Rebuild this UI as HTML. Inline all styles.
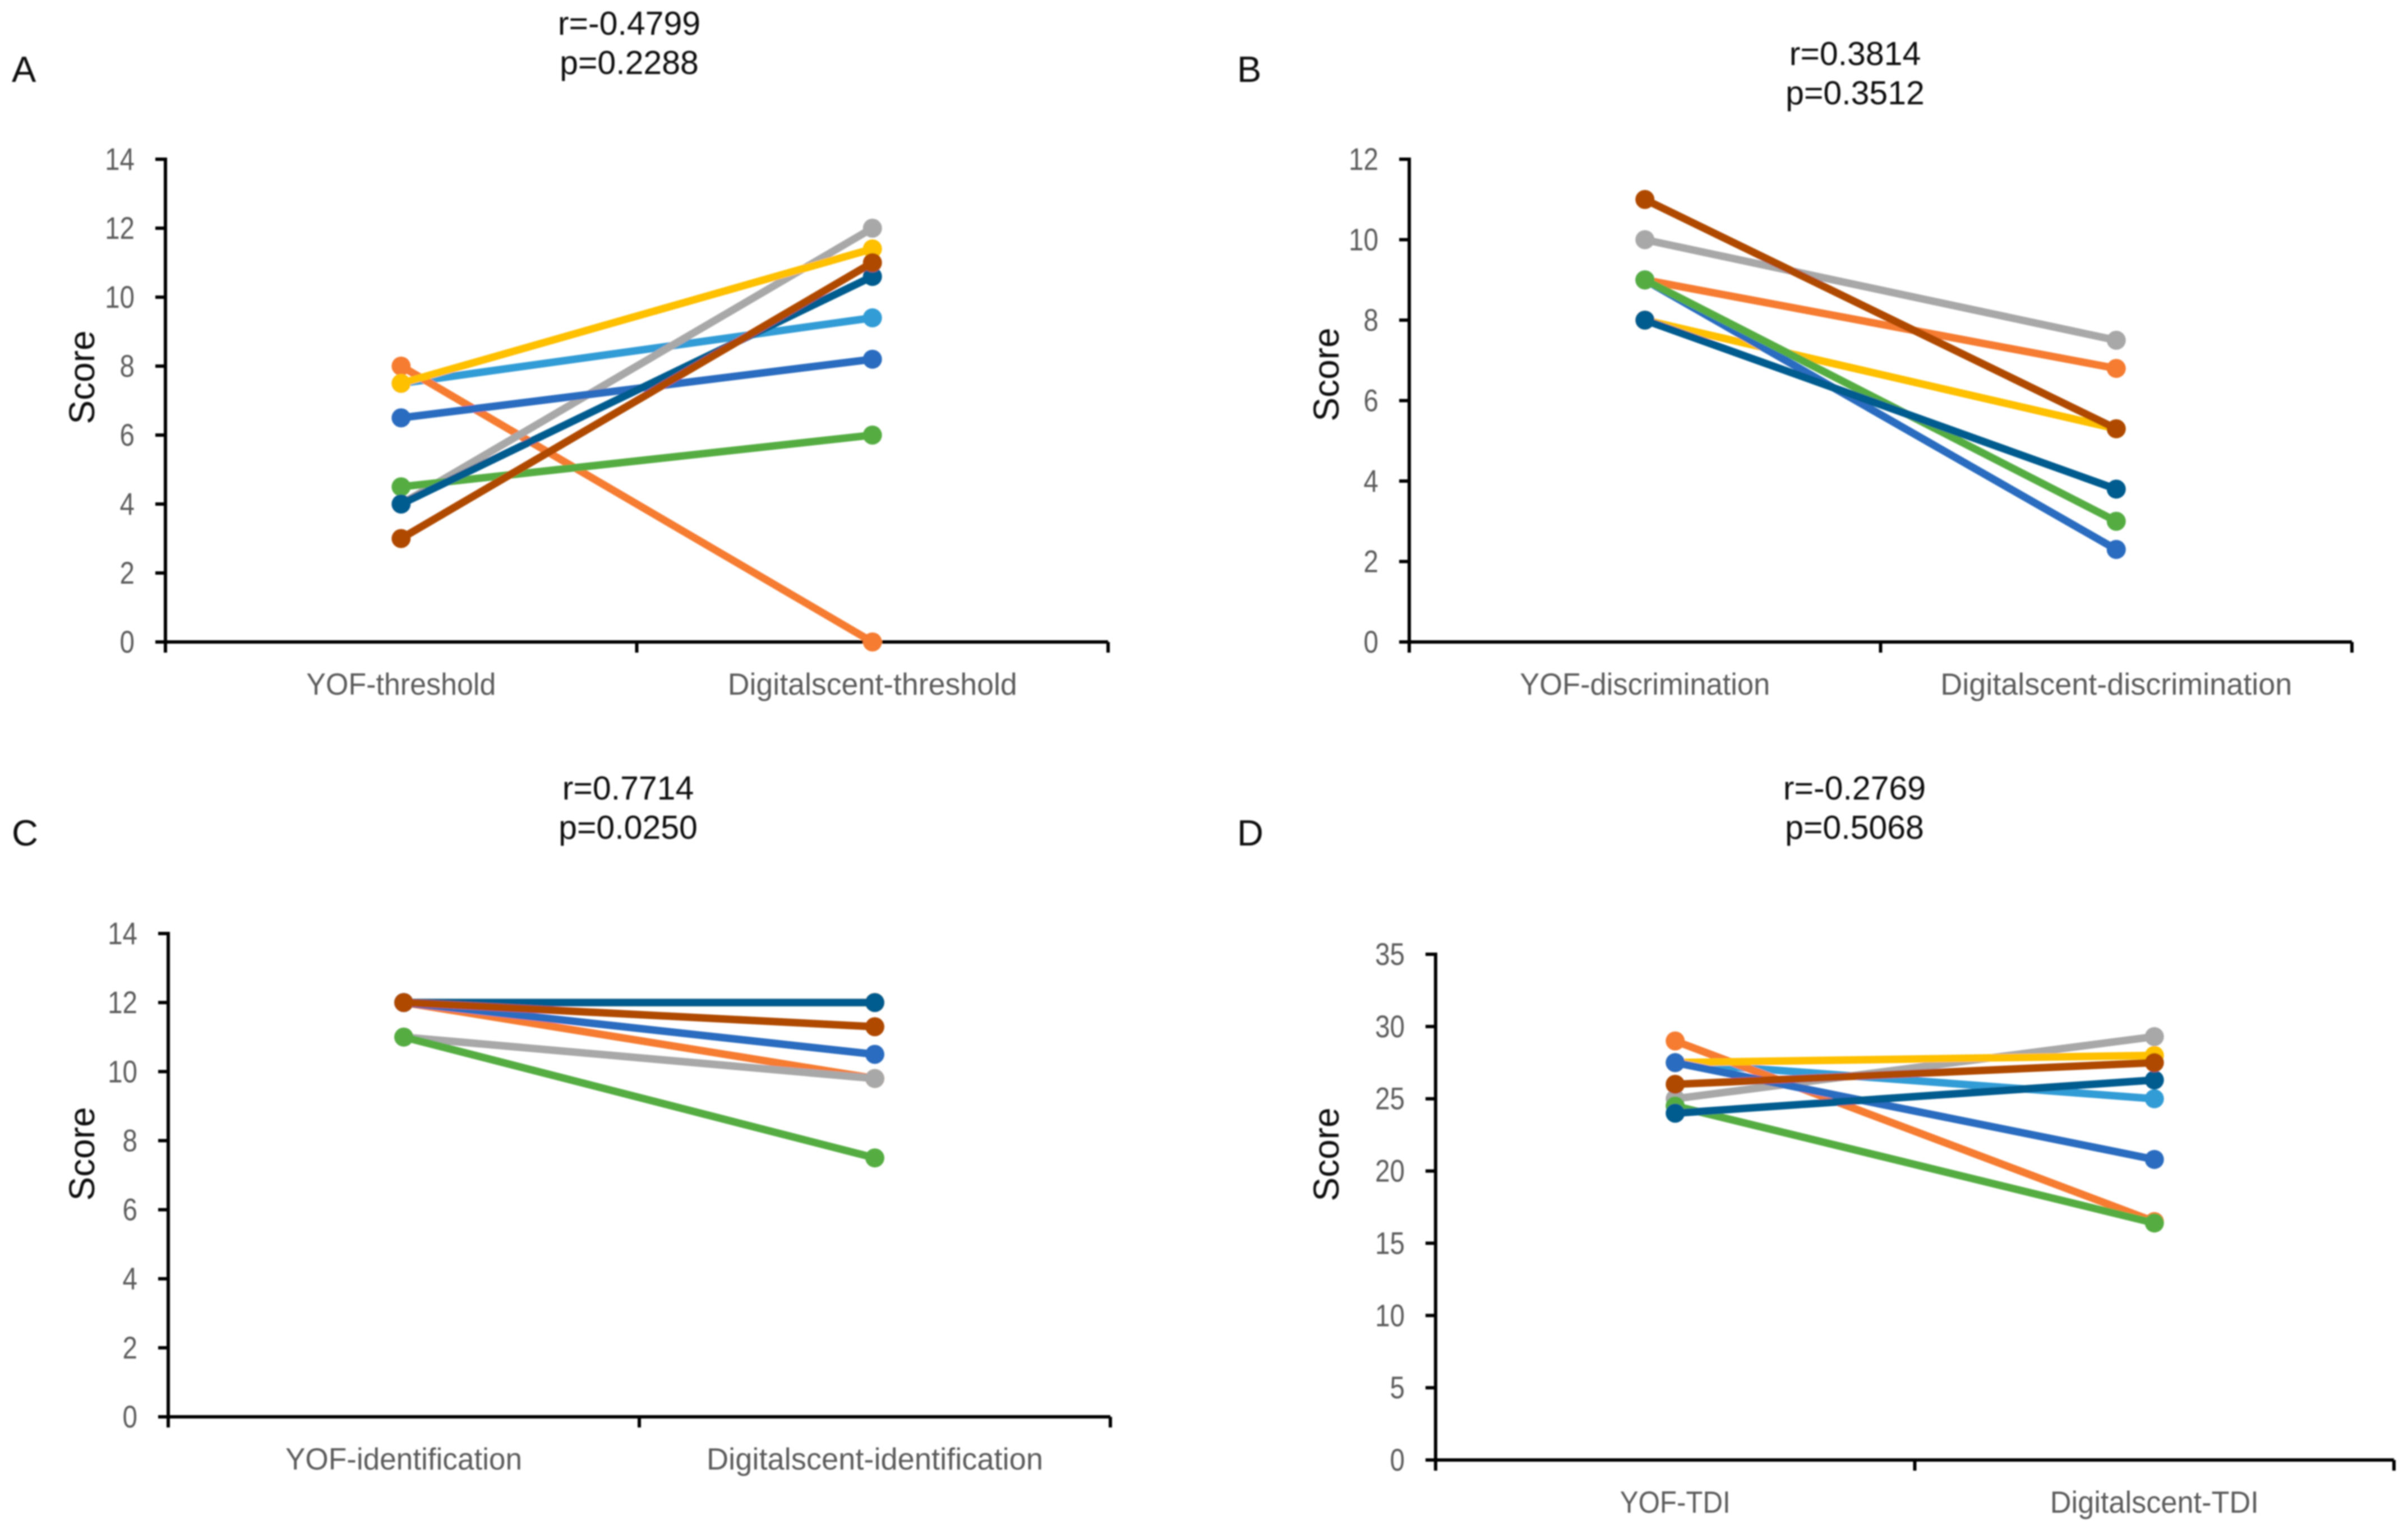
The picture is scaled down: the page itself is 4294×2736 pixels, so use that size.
<!DOCTYPE html>
<html lang="en">
<head>
<meta charset="utf-8">
<title>YOF vs Digitalscent score charts</title>
<style>
html,body{margin:0;padding:0;background:#fff;width:4294px;height:2736px;overflow:hidden}
svg{display:block}
text{font-family:"Liberation Sans",sans-serif}
.title{font-size:59px;fill:#111;text-anchor:middle}
.letter{font-size:65px;fill:#111}
.ylabel{font-size:64px;fill:#111;text-anchor:middle}
.tick{font-size:56px;fill:#5c5c5c;text-anchor:end}
.cat{font-size:55px;fill:#5c5c5c;text-anchor:middle}
</style>
</head>
<body>
<svg id="chart-root" xmlns="http://www.w3.org/2000/svg" width="4294" height="2736" viewBox="0 0 4294 2736">
  <defs><filter id="soft" x="-5%" y="-5%" width="110%" height="110%"><feGaussianBlur stdDeviation="1.3"/></filter></defs>
  <rect width="4294" height="2736" fill="#fff"/>
  <g id="all" filter="url(#soft)">
    <text class="letter" x="21" y="146">A</text>
    <text class="title" x="1122" y="62">r=-0.4799</text>
    <text class="title" x="1122" y="132">p=0.2288</text>
    <text class="ylabel" transform="translate(168,673) rotate(-90)">Score</text>

    <text class="letter" x="2206" y="146">B</text>
    <text class="title" x="3308" y="116">r=0.3814</text>
    <text class="title" x="3308" y="186">p=0.3512</text>
    <text class="ylabel" transform="translate(2387,668) rotate(-90)">Score</text>

    <text class="letter" x="21" y="1508">C</text>
    <text class="title" x="1120" y="1426">r=0.7714</text>
    <text class="title" x="1120" y="1496">p=0.0250</text>
    <text class="ylabel" transform="translate(168,2058) rotate(-90)">Score</text>

    <text class="letter" x="2206" y="1508">D</text>
    <text class="title" x="3307" y="1426">r=-0.2769</text>
    <text class="title" x="3307" y="1496">p=0.5068</text>
    <text class="ylabel" transform="translate(2387,2059) rotate(-90)">Score</text>
  </g>
</svg>
<script>
// Series order follows draw order (later series sit on top)
const seriesNames = ['light-blue','orange','gray','yellow','blue','green','dark-blue','brown'];

const panelACategories = ['YOF-threshold','Digitalscent-threshold'];
const panelATicks = [0,2,4,6,8,10,12,14];
const panelAYof = [7.5,8,4,7.5,6.5,4.5,4,3];
const panelADigital = [9.4,0,12,11.4,8.2,6,10.6,11];

const panelBCategories = ['YOF-discrimination','Digitalscent-discrimination'];
const panelBTicks = [0,2,4,6,8,10,12];
const panelBYof = [9,9,10,8,9,9,8,11];
const panelBDigital = [2.3,6.8,7.5,5.3,2.3,3,3.8,5.3];

const panelCCategories = ['YOF-identification','Digitalscent-identification'];
const panelCTicks = [0,2,4,6,8,10,12,14];
const panelCYof = [12,12,11,12,12,11,12,12];
const panelCDigital = [12,9.8,9.8,12,10.5,7.5,12,11.3];

const panelDCategories = ['YOF-TDI','Digitalscent-TDI'];
const panelDTicks = [0,5,10,15,20,25,30,35];
const panelDYof = [27.5,29,25,27.5,27.5,24.5,24,26];
const panelDDigital = [25,16.5,29.3,28,20.8,16.4,26.3,27.5];

const seriesColors = ['#339CD6','#F67C30','#A8A8A8','#FFC000','#2B6CC0','#55AD42','#005C8F','#B04A00'];

const NS = 'http://www.w3.org/2000/svg';
const root = document.getElementById('all');

function make(tag, attrs, parent, text) {
  const el = document.createElementNS(NS, tag);
  for (const k in attrs) el.setAttribute(k, attrs[k]);
  if (text !== undefined) el.textContent = text;
  parent.appendChild(el);
  return el;
}

function drawPanel(id, left, right, top, bottom, categories, ticks, yof, digital, catWidth0, catWidth1) {
  const maxY = ticks[ticks.length - 1];
  const minY = ticks[0];
  const yScale = v => bottom - (v - minY) / (maxY - minY) * (bottom - top);
  const band = (right - left) / categories.length;
  const xScale = i => left + (i + 0.5) * band;

  const g = make('g', {}, root);
  
  

  const yAxis = make('line', {x1: left, x2: left, y1: top - 3, y2: bottom + 19, stroke: '#000', 'stroke-width': 6}, g);
  
  
  const xAxis = make('line', {x1: left, x2: right, y1: bottom, y2: bottom, stroke: '#000', 'stroke-width': 6}, g);
  
  

  ticks.forEach(t => {
    const y = yScale(t);
    make('line', {x1: left - 18, x2: left, y1: y, y2: y, stroke: '#000', 'stroke-width': 6}, g);
    const lab = make('text', {class: 'tick', transform: 'translate(' + (left - 55) + ',' + (y + 19) + ') scale(0.85,1)'}, g, String(t));
    
    
  });

  for (let i = 0; i <= categories.length; i++) {
    const x = left + i * band;
    make('line', {x1: x, x2: x, y1: bottom, y2: bottom + 19, stroke: '#000', 'stroke-width': 6}, g);
  }

  categories.forEach((c, i) => {
    const lab = make('text', {class: 'cat', x: xScale(i), y: bottom + 94, textLength: i === 0 ? catWidth0 : catWidth1, lengthAdjust: 'spacingAndGlyphs'}, g, c);
    
    
  });

  seriesNames.forEach((name, s) => {
    const color = seriesColors[s];
    const sg = make('g', {}, g);
    
    
    make('line', {x1: xScale(0), y1: yScale(yof[s]), x2: xScale(1), y2: yScale(digital[s]), stroke: color, 'stroke-width': 13.5}, sg);
    make('circle', {cx: xScale(0), cy: yScale(yof[s]), r: 17, fill: color}, sg);
    make('circle', {cx: xScale(1), cy: yScale(digital[s]), r: 17, fill: color}, sg);
  });
}

drawPanel('a', 295, 1976, 284, 1145, panelACategories, panelATicks, panelAYof, panelADigital, 338, 516);
drawPanel('b', 2513, 4194, 284, 1145, panelBCategories, panelBTicks, panelBYof, panelBDigital, 446, 627);
drawPanel('c', 300, 1980, 1665, 2527, panelCCategories, panelCTicks, panelCYof, panelCDigital, 422, 600);
drawPanel('d', 2560, 4269, 1702, 2604, panelDCategories, panelDTicks, panelDYof, panelDDigital, 197, 372);
</script>
</body>
</html>
